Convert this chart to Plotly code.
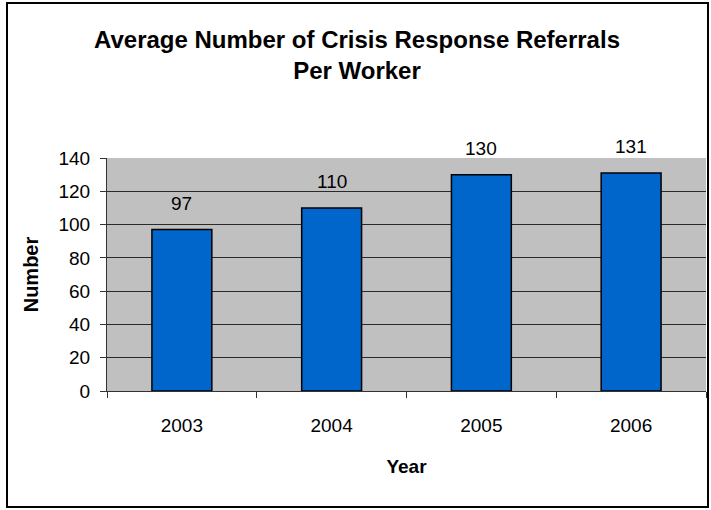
import plotly.graph_objects as go

years = ["2003", "2004", "2005", "2006"]
referrals = [97, 110, 130, 131]
y_ticks = [0, 20, 40, 60, 80, 100, 120, 140]

title_text = "Average Number of Crisis Response Referrals<br>Per Worker"
x_title = "Year"
y_title = "Number"

W, H = 711, 510
ML, MR, MT, MB = 107, 5, 158, 119
PW = W - ML - MR
PH = H - MT - MB

FONT = "Liberation Sans, Arial, Helvetica, sans-serif"

fig = go.Figure()
fig.add_trace(go.Bar(
    x=years, y=referrals,
    marker=dict(color="#0066CC", line=dict(color="#000000", width=1.5)),
    hoverinfo="x+y",
))

# data labels: index position on the category axis, value from the data
for i, yv in enumerate(referrals):
    fig.add_annotation(x=i, y=yv, xref="x", yref="y", text=str(yv),
                       showarrow=False, yshift=26,
                       font=dict(family=FONT, size=19, color="#000"))

def px_to_paper_x(px):
    return (px - ML) / PW

def px_to_paper_y(py):
    return (H - MB - py) / PH

fig.add_shape(type="rect", xref="paper", yref="paper",
              x0=px_to_paper_x(7), x1=px_to_paper_x(708),
              y0=px_to_paper_y(507), y1=px_to_paper_y(3),
              line=dict(color="#000000", width=2), fillcolor="rgba(0,0,0,0)",
              layer="above")

fig.update_layout(
    width=W, height=H,
    margin=dict(l=ML, r=MR, t=MT, b=MB, pad=0),
    paper_bgcolor="#FFFFFF",
    plot_bgcolor="#C0C0C0",
    bargap=0.6,
    showlegend=False,
    font=dict(family=FONT, color="#000"),
    title=dict(text="<b>" + title_text + "</b>", x=357 / W, xanchor="center",
               xref="container", yref="container", y=1 - 48 / H, yanchor="top",
               font=dict(family=FONT, size=24, color="#000")),
    xaxis=dict(
        type="category",
        categoryorder="array", categoryarray=years,
        range=[-0.5, len(years) - 0.5],
        showline=True, linecolor="#333333", linewidth=1,
        ticks="outside", ticklen=6, tickcolor="#333333", tickson="boundaries",
        showgrid=False,
        tickfont=dict(family=FONT, size=19, color="#000"),
        ticklabelstandoff=17,
        title=dict(text="<b>" + x_title + "</b>", standoff=24,
                   font=dict(family=FONT, size=19, color="#000")),
    ),
    yaxis=dict(
        range=[0, 140], tickvals=y_ticks,
        showline=True, linecolor="#333333", linewidth=1,
        ticks="outside", ticklen=6, tickcolor="#333333",
        showgrid=True, gridcolor="#2a2a2a", gridwidth=1,
        zeroline=False,
        tickfont=dict(family=FONT, size=19, color="#000"),
        ticklabelstandoff=6,
        title=dict(text="<b>" + y_title + "</b>", standoff=14,
                   font=dict(family=FONT, size=20, color="#000")),
    ),
)

fig.write_html("out.html",
               config={"displayModeBar": False},
               post_script="document.body.style.margin='0';document.body.style.overflow='hidden';")
